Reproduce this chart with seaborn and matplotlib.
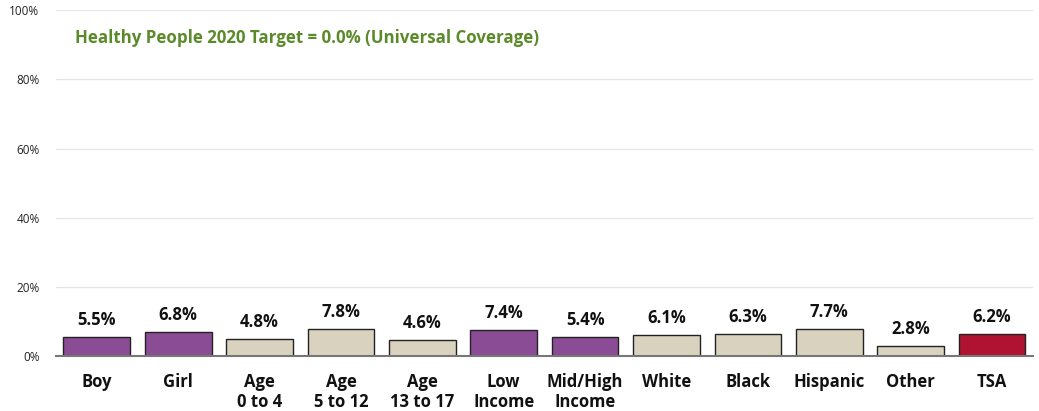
import matplotlib
matplotlib.use("Agg")
import matplotlib.pyplot as plt
import seaborn as sns
import pandas as pd
from matplotlib.ticker import PercentFormatter

# chart data
categories = ["Boy", "Girl", "Age\n0 to 4", "Age\n5 to 12", "Age\n13 to 17", "Low\nIncome",
              "Mid/High\nIncome", "White", "Black", "Hispanic", "Other", "TSA"]
values = [5.5, 6.8, 4.8, 7.8, 4.6, 7.4, 5.4, 6.1, 6.3, 7.7, 2.8, 6.2]
groups = ["sex", "sex", "age", "age", "age", "income", "income", "race", "race", "race", "race", "total"]

PURPLE = "#8B4C96"
BEIGE = "#D8D2BE"
RED = "#B01232"
group_colors = {"sex": PURPLE, "age": BEIGE, "income": PURPLE, "race": BEIGE, "total": RED}

df = pd.DataFrame({"category": categories, "value": values, "group": groups})

sns.set_style("white")
plt.rcParams["font.family"] = ["Open Sans", "DejaVu Sans"]

fig, ax = plt.subplots(figsize=(10.39, 4.11), dpi=100)
fig.subplots_adjust(left=0.054, right=0.994, top=0.975, bottom=0.134)

palette = [group_colors[g] for g in groups]
sns.barplot(data=df, x="category", y="value", hue="category", palette=palette,
            legend=False, width=0.82, saturation=1, edgecolor="#222222", linewidth=1.0, ax=ax)

for i, v in enumerate(values):
    ax.text(i, v + 2.4, f"{v:.1f}%", ha="center", va="bottom", fontsize=12,
            fontweight="bold", color="#111111")

ax.set_ylim(0, 100)
ax.set_xlim(-0.5, len(categories) - 0.5)
ax.set_yticks([0, 20, 40, 60, 80, 100])
ax.yaxis.set_major_formatter(PercentFormatter(decimals=0))
ax.tick_params(axis="y", labelsize=8.5, length=0, pad=12, colors="#222222")
ax.tick_params(axis="x", labelsize=12, length=0, pad=12)
for lbl in ax.get_xticklabels():
    lbl.set_fontweight("bold")
    lbl.set_color("#111111")
    lbl.set_verticalalignment("top")
    lbl.set_linespacing(1.15)

ax.set_xlabel("")
ax.set_ylabel("")
ax.yaxis.grid(True, color="#E6E6E6", linewidth=0.9)
ax.set_axisbelow(True)
for side in ["top", "right", "left"]:
    ax.spines[side].set_visible(False)
ax.spines["bottom"].set_color("#777777")
ax.spines["bottom"].set_linewidth(1.5)

ax.text(0.019, 0.92, "Healthy People 2020 Target = 0.0% (Universal Coverage)",
        transform=ax.transAxes, fontsize=12.2, fontweight="bold", color="#5B8A2B",
        ha="left", va="center")

plt.savefig("out.png", dpi=100)
